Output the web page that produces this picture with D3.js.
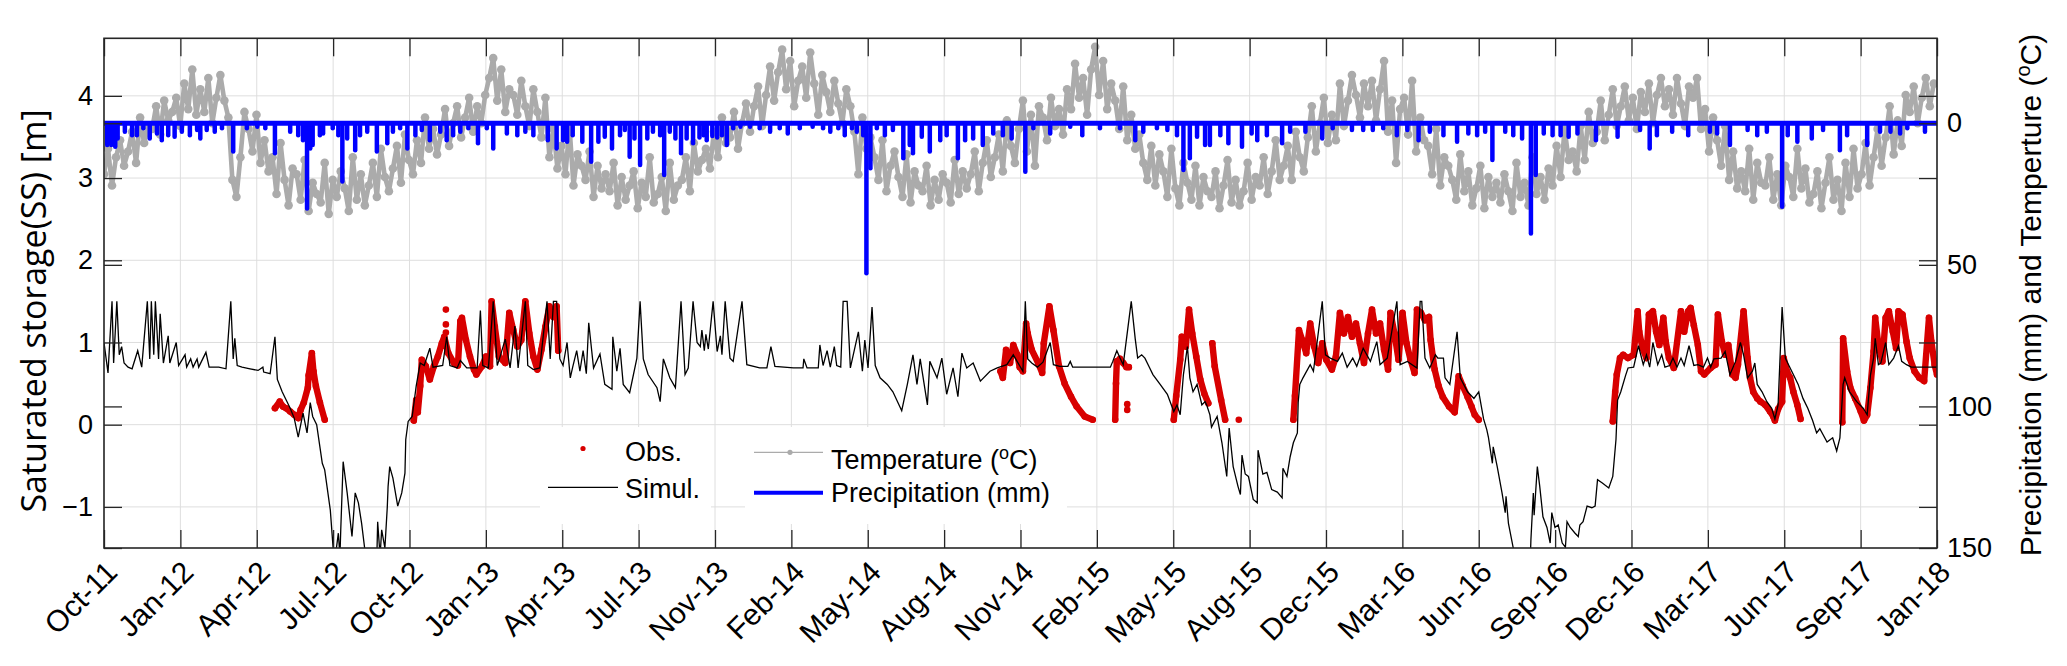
<!DOCTYPE html>
<html>
<head>
<meta charset="utf-8">
<script src="https://cdn.jsdelivr.net/npm/d3@7"></script>
<style>
  body { margin: 0; background: #fff; }
  text { font-family: "Liberation Sans", Arial, Helvetica, sans-serif; fill: #000; }
</style>
</head>
<body>
<svg id="chart" width="2067" height="666"></svg>
<script>
// time axis runs from 1 Oct 2011 to 1 Jan 2018, ticks are evenly spaced in time
const startDate = new Date(2011, 9, 1);
const endDate = new Date(2018, 0, 1);
const xTickLabels = ["Oct-11", "Jan-12", "Apr-12", "Jul-12", "Oct-12", "Jan-13", "Apr-13",
  "Jul-13", "Nov-13", "Feb-14", "May-14", "Aug-14", "Nov-14", "Feb-15", "May-15", "Aug-15",
  "Dec-15", "Mar-16", "Jun-16", "Sep-16", "Dec-16", "Mar-17", "Jun-17", "Sep-17", "Jan-18"];
const leftTicks = [-1, 0, 1, 2, 3, 4];
const rightTicks = [0, 50, 100, 150];

// simulated saturated storage [m]: [days since 1 Oct 2011, value]
const simulated = [[0,1.0],[5,0.63],[10,1.5],[12,0.75],[16,1.5],[19,0.85],[22,0.95],[25,0.75],[30,0.7],[35,0.68],[42,0.9],[47,0.7],[54,1.5],[57,0.8],[59,1.5],[62,0.85],[64,1.5],[68,0.8],[70,1.35],[74,0.75],[80,1.08],[82,0.75],[90,1.0],[93,0.72],[101,0.85],[103,0.7],[108,0.8],[111,0.7],[116,0.8],[118,0.7],[127,0.88],[131,0.7],[143,0.7],[152,0.68],[158,1.5],[161,0.8],[163,1.05],[166,0.72],[172,0.7],[182,0.68],[192,0.66],[198,0.7],[199,0.64],[207,0.62],[213,1.07],[216,0.55],[222,0.4],[227,0.3],[232,0.2],[237,0.08],
  [242,-0.15],[248,0.14],[253,-0.1],[257,0.27],[260,0.1],[265,0.0],[272,-0.47],[275,-0.55],[282,-1.04],[287,-1.7],[292,-1.32],[294,-1.6],[295,-1.28],[298,-0.45],[303,-0.83],[309,-1.36],[313,-0.83],[317,-0.95],[321,-1.2],[326,-1.6],[334,-1.8],[340,-1.6],[341,-1.18],[344,-1.6],[346,-1.28],[350,-1.5],[353,-1.0],[354,-0.75],[356,-0.51],[360,-0.65],[366,-0.99],[371,-0.83],[375,-0.59],[376,-0.18],[379,0.04],[384,0.1],[389,0.47],[394,0.75],[399,0.72],[406,0.93],[410,0.7],[422,0.72],[427,1.07],[431,0.72],[440,0.69],[444,0.78],[452,0.69],[465,0.69],[469,1.39],[472,0.72],[479,0.69],[485,1.5],[490,0.72],[493,0.81],[500,1.04],[506,0.69],[512,1.2],[516,0.69],[525,1.5],[528,0.72],[535,0.67],[543,0.69],[552,1.5],[556,0.8],[560,1.5],[564,1.5],[568,0.8],[572,0.72],
  [577,1.0],[581,0.57],[584,0.7],[589,0.9],[593,0.65],[597,0.9],[601,0.62],[604,1.24],[610,0.69],[618,0.86],[624,0.49],[633,0.43],[634,1.07],[639,0.65],[643,0.93],[647,0.49],[655,0.39],[664,0.81],[668,1.5],[672,0.8],[678,0.61],[689,0.45],[693,0.28],[697,0.8],[705,0.57],[712,0.45],[719,1.5],[724,0.61],[728,0.69],[734,1.5],[739,1.0],[743,0.95],[745,1.15],[748,0.9],[750,1.1],[753,0.92],[759,1.5],[764,0.89],[768,1.08],[770,0.85],[774,1.5],[780,0.81],[784,0.77],[795,1.5],[801,0.73],[817,0.69],[826,0.69],[831,0.95],[836,0.71],[859,0.69],[871,0.69],[872,0.8],[876,0.69],[890,0.69],[892,0.97],[896,0.72],[901,0.9],[905,0.7],[910,0.95],[913,0.72],[918,0.7],[921,1.5],[926,1.5],[930,0.69],[940,1.13],[945,0.65],[948,1.03],[952,0.69],[957,1.43],[961,0.72],[967,0.57],[976,0.49],[983,0.40],[994,0.17],[1001,0.49],[1008,0.85],[1013,0.49],[1017,0.8],[1026,0.24],[1029,0.77],[1038,0.57],[1044,0.81],[1050,0.37],[1058,0.69],[1064,0.34],[1069,0.87],[1075,0.69],[1083,0.75],[1092,0.53],[1104,0.65],[1113,0.69],[1125,0.73],[1133,0.85],[1145,0.65],[1148,1.5],[1151,0.8],[1156,0.75],[1163,0.7],[1170,0.76],[1179,1.0],[1183,0.73],[1191,0.71],[1201,0.71],[1204,0.77],[1207,0.70],[1254,0.70],[1257,0.77],[1262,0.9],[1266,0.81],[1270,0.73],[1280,1.5],[1285,1.04],[1288,0.81],[1293,0.85],[1297,0.81],[1303,0.69],[1307,0.61],[1316,0.49],[1325,0.37],[1333,0.16],[1337,0.24],[1341,0.12],[1345,0.61],[1350,0.95],[1353,0.57],[1357,0.40],[1362,0.49],[1368,0.24],[1372,0.28],[1374,0.24],[1378,0.12],[1380,-0.03],[1387,0.1],[1393,-0.22],[1399,-0.63],[1402,-0.04],[1407,-0.51],[1413,-0.75],[1416,-0.85],[1418,-0.37],[1422,-0.6],[1426,-0.63],[1432,-0.91],[1437,-0.95],[1438,-0.31],[1444,-0.6],[1449,-0.58],[1455,-0.79],[1462,-0.82],[1468,-0.89],[1469,-0.53],[1474,-0.63],[1478,-0.39],[1482,-0.22],[1487,-0.10],[1488,0.27],[1490,0.49],[1494,0.57],[1503,0.73],[1507,0.65],[1518,1.5],[1522,0.85],[1528,0.81],[1537,0.77],[1543,0.87],[1549,0.70],[1556,0.81],[1561,0.71],[1569,0.93],[1578,0.77],[1586,1.01],[1590,0.73],[1599,0.81],[1611,1.5],[1615,0.73],[1624,0.77],[1636,0.69],[1640,1.5],[1642,1.5],[1646,0.81],[1652,0.69],[1659,0.85],[1662,0.81],[1669,0.81],[1671,0.57],[1677,0.49],[1686,1.13],[1690,0.57],[1699,0.40],[1707,0.32],[1713,0.4],[1719,0.07],[1723,-0.06],[1725,-0.15],[1730,-0.47],[1731,-0.27],[1736,-0.51],[1742,-0.83],[1746,-1.07],[1747,-0.87],[1750,-1.2],[1756,-1.5],[1765,-1.8],[1777,-1.7],[1778,-1.4],[1781,-0.83],[1782,-1.1],[1786,-0.51],[1789,-0.75],[1793,-1.12],[1798,-1.25],[1802,-1.44],[1804,-1.07],[1808,-1.25],[1812,-1.22],[1817,-1.44],[1821,-1.49],[1823,-1.18],[1827,-1.25],[1833,-1.32],[1837,-1.36],[1839,-1.22],[1843,-1.18],[1848,-0.99],[1854,-1.01],[1858,-0.99],[1861,-0.67],[1867,-0.71],[1875,-0.77],[1880,-0.63],[1884,-0.18],[1886,0.3],[1890,0.4],[1896,0.6],[1899,0.69],[1906,0.70],[1912,0.96],[1918,0.73],[1922,0.85],[1926,0.70],[1930,1.0],[1936,0.73],[1941,0.85],[1945,0.70],[1951,0.72],[1955,0.81],[1960,0.70],[1965,0.81],[1969,0.72],[1975,0.96],[1981,0.72],[1986,0.73],[1993,0.70],[1998,0.81],[2002,0.70],[2006,0.80],[2015,0.81],[2020,0.89],[2026,0.61],[2033,0.77],[2039,1.0],[2043,0.85],[2048,0.57],[2054,0.65],[2057,0.75],[2060,0.49],[2066,0.40],[2072,0.28],[2078,0.20],[2082,0.07],[2086,0.24],[2091,1.43],[2095,0.81],[2099,0.73],[2105,0.61],[2111,0.49],[2117,0.32],[2123,0.2],[2129,0.05],[2134,-0.1],[2138,-0.05],[2147,-0.21],[2154,-0.16],[2159,-0.32],[2163,-0.16],[2167,0.49],[2169,0.57],[2175,0.40],[2184,0.28],[2192,0.20],[2197,0.12],[2201,0.6],[2205,0.81],[2207,1.05],[2211,0.73],[2214,0.75],[2220,1.0],[2224,0.73],[2230,0.81],[2236,0.96],[2240,0.77],[2246,0.73],[2252,0.70],[2284,0.70]];

// observed saturated storage [m], one array per measuring period
const obs2012a = [[213,0.2],[219,0.28],[223,0.22],[227,0.2],[232,0.16],[237,0.12],[242,0.08],[245,0.18],[249,0.27],[254,0.45],[255,0.6],[259,0.87],[261,0.65],[264,0.47],[269,0.27],[275,0.06]];
const obs2012b = [[386,0.05],[389,0.3],[391,0.15],[394,0.47],[396,0.79],[401,0.71],[406,0.55],[411,0.71],[416,0.83],[421,0.99],[424,1.07],[429,0.87],[436,0.75],[441,0.72],[444,1.26],[446,1.3],[451,1.03],[456,0.83],[461,0.67],[464,0.61],[471,0.71],[476,0.83],[481,0.71],[483,1.5],[487,1.19],[492,0.83],[500,0.75],[505,1.36],[510,1.15],[515,0.95],[520,1.03],[525,1.5],[530,1.11],[535,0.83],[540,0.67],[545,0.91],[550,1.19],[555,1.44],[560,1.31],[564,1.44],[566,0.9]];
const obs2014 = [[1117,0.65],[1120,0.57],[1124,0.91],[1129,0.75],[1133,0.97],[1138,0.85],[1141,0.7],[1145,0.65],[1149,1.23],[1151,1.11],[1156,0.91],[1164,0.75],[1169,0.63],[1171,0.99],[1178,1.44],[1183,1.15],[1190,0.71],[1197,0.5],[1205,0.34],[1212,0.22],[1222,0.1],[1232,0.06]];
const obs2015a = [[1260,0.06],[1261,0.5],[1262,0.77],[1266,0.8],[1270,0.75],[1274,0.7],[1277,0.7]];
const obs2015b = [[1333,0.06],[1336,0.35],[1341,0.79],[1343,1.07],[1348,0.95],[1352,1.4],[1356,1.11],[1361,0.83],[1366,0.55],[1371,0.38],[1376,0.26]];
const obs2015c = [[1381,0.99],[1384,0.71],[1392,0.3],[1397,0.06]];
const obs2015d = [[1482,0.06],[1484,0.35],[1489,1.15],[1493,1.03],[1498,0.87],[1503,1.23],[1508,0.95],[1513,0.75],[1518,0.99],[1523,0.79],[1530,0.67],[1535,0.83],[1540,1.36],[1545,1.11],[1550,1.31],[1555,1.07],[1560,1.23],[1565,0.99],[1570,0.75],[1575,1.11],[1580,1.4],[1585,1.11],[1590,1.23],[1595,0.91],[1600,0.67],[1603,1.36],[1608,1.11],[1613,0.79],[1618,1.36],[1623,0.99],[1628,0.79],[1633,0.63],[1636,1.4],[1641,1.36],[1646,1.27],[1651,1.31],[1653,1.03],[1658,0.67],[1663,0.47],[1668,0.34],[1676,0.22],[1683,0.15],[1688,0.59],[1693,0.47],[1699,0.34],[1704,0.22],[1708,0.12],[1713,0.06]];
const obs2016 = [[1880,0.04],[1883,0.40],[1885,0.61],[1889,0.81],[1893,0.85],[1899,0.81],[1906,0.85],[1911,1.38],[1913,1.13],[1917,0.93],[1922,0.81],[1925,1.34],[1930,1.38],[1934,1.13],[1938,0.97],[1943,1.3],[1946,1.01],[1950,0.81],[1956,0.69],[1965,1.38],[1969,1.13],[1974,1.38],[1977,1.42],[1981,1.21],[1986,0.97],[1990,0.65],[1994,0.61],[2002,0.69],[2008,0.73],[2011,1.34],[2016,1.01],[2020,0.85],[2024,0.97],[2029,0.61],[2033,0.57],[2036,0.73],[2043,1.38],[2048,0.81],[2051,0.57],[2055,0.40],[2060,0.32],[2064,0.28],[2070,0.24],[2076,0.16],[2080,0.10],[2082,0.05],[2086,0.19],[2091,0.28],[2093,0.81],[2097,0.65],[2101,0.57],[2105,0.40],[2110,0.24],[2114,0.07]];
const obs2017 = [[2166,0.03],[2167,1.05],[2172,0.65],[2176,0.45],[2182,0.32],[2189,0.16],[2193,0.05],[2197,0.12],[2201,0.45],[2205,0.89],[2207,1.3],[2211,0.97],[2216,0.77],[2220,1.3],[2224,1.38],[2229,1.13],[2233,0.93],[2236,1.38],[2241,1.34],[2246,1.01],[2250,0.81],[2256,0.65],[2262,0.57],[2268,0.53],[2274,1.3],[2277,1.01],[2281,0.73],[2284,0.61]];
const obsSingle = [[426,1.4],[426,1.22],[426,1.12],[1275,0.25],[1275,0.18],[1414,0.06]];

// temperature [degC], one reading every 5 days from 1 Oct 2011
const tempStepDays = 5;
const temperature = [18,9,22,12,6,15, 10,3,14,-2,7,1, 2,-6,4,-8,-1,-4, -9,1,-14,-5,-19,-3,
  -12,-4,-16,0,-9,-17, -8,-2,20,26,12,-4, 2,10,-3,14,6,17, 12,25,7,20,29,16,
  18,27,13,31,21,25, 28,14,32,20,26,17, 23,31,12,27,18,29, 22,14,26,9,19,24,
  16,8,21,4,13,18, 6,14,-2,9,2,11, 4,-5,8,0,-6,5, -2,-9,3,-6,0,-10,
  -16,-23,-8,-19,-4,-12, -10,-3,-15,-6,1,-12, -4,5,-9,12,2,16, 8,18,1,22,11,15,
  20,10,26,15,23,18, 24,14,29,19,27,22, 17,30,21,26,12,28, 25,19,31,14,27,22,
  20,12,24,7,17,13, 9,16,3,12,-2,7, 5,-4,9,0,-7,3, -6,-13,1,-10,-20,-8,
  -18,-26,-12,-22,-6,-15, -20,-9,-25,-14,-3,-17, -11,-4,-15,-7,0,-12, -6,3,18,-2,9,5,
  12,20,6,24,15,10, 19,26,11,28,17,22, 24,15,29,20,27,18, 21,28,13,25,17,23,
  18,10,24,14,6,19, 12,4,17,-1,8,14, 2,-8,10,-3,15,-6, -2,6,-9,1,-5,4,
  -12,-5,-21,-9,-16,-3, -19,-27,-10,-22,-5,-14, -8,2,-13,6,-3,9, 4,14,20,8,22,11,
  17,26,9,23,29,14, 21,27,15,29,19,24, 26,17,30,22,13,28, 20,29,24,14,27,19,
  22,12,25,17,6,20, 15,8,20,3,12,17, 5,-6,10,0,-9,7, -3,6,-14,1,-8,-17,
  -10,-2,-14,-6,-15,-1, -12,-22,3,-8,14,-5, -9,4,-15,10,-2,6, 8,18,2,22,12,15,
  20,27,11,24,17,29, 23,15,30,19,26,21, 28,18,24,31,14,26, 21,29,12,25,19,27,
  16,22,8,19,2,13, 10,17,1,13,-4,7, 3,-8,6,-3,-12,1, -6,-13,-1,-9,2,-11,
  -4,-14,0,-10,-16,-6, -12,-3,-16,-7,1,-13, -9,-16,2,-5,10,-2, 6,15,1,20,10,23,
  17,24,9,27,14,21, 22,12,27,18,29,15, 19,26,9,23,16,28, 25,17,30,21,12,27,
  20,31,14,26,9,23, 18,7,22,12,2,15, 5,-6,11,-1,8,-10, -4,-13,0,-9,-16,-6, -14];

// daily precipitation [mm]: [days since 1 Oct 2011, value]
const precipitation = [[4,7.7],[9,7.7],[14,8.3],[17,5.4],[26,3.0],[35,4.2],[41,4.2],[49,1.8],[57,5.4],[66,3.6],[72,6.0],[80,4.2],[88,4.8],[97,3.0],[107,4.2],[116,2.4],[120,5.4],[128,2.4],[138,3.0],[147,1.8],[161,10.0],[178,1.8],[191,1.2],[201,1.8],[213,10.6],[232,3.0],[242,4.2],[248,6.0],[253,30.1],[257,8.9],[260,7.7],[269,4.2],[273,3.6],[285,1.8],[292,4.2],[297,20.6],[303,5.4],[313,9.5],[319,4.2],[328,3.0],[340,10.0],[353,7.1],[360,3.0],[369,1.8],[378,8.9],[388,4.2],[396,2.4],[406,6.0],[419,3.0],[427,6.0],[435,4.2],[444,3.0],[454,1.8],[466,7.1],[477,1.8],[485,8.9],[502,3.6],[515,4.2],[525,3.0],[535,4.2],[553,6.0],[564,8.9],[572,6.0],[577,6.5],[584,4.2],[596,6.5],[607,13.6],[616,6.5],[624,4.8],[633,8.9],[643,4.2],[649,2.4],[655,11.8],[661,5.4],[668,14.7],[677,5.4],[684,3.0],[693,4.2],[698,18.3],[705,3.0],[712,5.4],[719,10.6],[726,5.4],[734,7.1],[742,5.0],[747,4.2],[751,6.0],[758,4.5],[764,5.0],[770,4.2],[776,7.7],[784,1.8],[793,1.2],[805,1.2],[817,1.8],[830,3.0],[842,1.8],[852,3.6],[867,1.8],[883,1.2],[896,1.8],[905,3.0],[915,1.8],[923,4.2],[932,1.8],[938,3.0],[946,4.2],[950,53],[955,15.9],[963,1.8],[973,4.2],[983,2.4],[996,12.4],[1004,7.7],[1008,10.6],[1019,4.8],[1029,10.0],[1042,6.0],[1050,4.2],[1064,12.4],[1073,6.0],[1083,5.4],[1095,7.7],[1108,3.6],[1120,4.2],[1131,5.4],[1148,17.1],[1158,1.8],[1179,3.6],[1204,1.2],[1219,4.2],[1241,1.8],[1266,1.8],[1285,6.0],[1295,3.0],[1312,1.8],[1325,2.4],[1337,4.2],[1345,16.5],[1353,12.4],[1362,4.8],[1372,7.7],[1378,7.7],[1391,4.2],[1401,7.1],[1418,8.3],[1430,3.6],[1437,6.0],[1449,4.2],[1468,7.1],[1478,3.0],[1497,3.0],[1518,5.4],[1531,1.8],[1555,2.4],[1569,2.4],[1581,2.4],[1594,1.8],[1611,4.2],[1624,2.4],[1638,6.0],[1652,3.0],[1669,4.2],[1686,6.5],[1700,3.6],[1711,4.2],[1721,3.0],[1730,13.0],[1746,3.0],[1756,4.2],[1767,5.4],[1778,38.9],[1784,18.3],[1794,3.6],[1805,4.2],[1815,4.2],[1825,4.8],[1836,3.6],[1859,6.0],[1886,4.8],[1914,2.4],[1926,8.9],[1935,4.2],[1954,3.0],[1974,4.2],[2001,3.0],[2010,3.6],[2026,7.7],[2048,2.4],[2060,4.2],[2072,3.0],[2091,29.5],[2098,4.2],[2110,6.5],[2128,5.4],[2142,2.4],[2163,9.5],[2172,4.2],[2197,7.7],[2213,3.0],[2226,3.0],[2238,3.6],[2247,1.8],[2269,3.0]];

const obsSegments = [obs2012a, obs2012b, obs2014, obs2015a, obs2015b, obs2015c, obs2015d, obs2016, obs2017];

const dayDate = d => new Date(startDate.getTime() + d * 864e5);

const svg = d3.select("#chart");
const plot = { left: 104, right: 1937, top: 38.3, bottom: 548 };
const tickLen = 18;
const axisColor = "#262626";
const tempColor = "#ababab";

const x = d3.scaleTime().domain([startDate, endDate]).range([plot.left, plot.right]);
const yL = d3.scaleLinear().domain([-1.5, 4.7]).range([plot.bottom, plot.top]);
const yR = d3.scaleLinear().domain([-30, 150]).range([plot.top, plot.bottom]);

const xTicks = xTickLabels.map((_, i) =>
  new Date(startDate.getTime() + i * (endDate - startDate) / (xTickLabels.length - 1)));

svg.append("defs").append("clipPath").attr("id", "clip")
  .append("rect")
  .attr("x", plot.left).attr("y", plot.top)
  .attr("width", plot.right - plot.left).attr("height", plot.bottom - plot.top);

// grid
const grid = svg.append("g").attr("stroke", "#dedede").attr("stroke-width", 1);
grid.selectAll(".gx").data(xTicks).join("line")
  .attr("x1", d => x(d)).attr("x2", d => x(d))
  .attr("y1", plot.top).attr("y2", plot.bottom);
grid.selectAll(".gy").data(leftTicks).join("line")
  .attr("x1", plot.left).attr("x2", plot.right)
  .attr("y1", d => yL(d)).attr("y2", d => yL(d));

const data = svg.append("g").attr("clip-path", "url(#clip)");

// temperature (right axis)
const tempPoints = temperature.map((t, i) => [dayDate(i * tempStepDays), t]);
data.append("path")
  .datum(tempPoints)
  .attr("fill", "none")
  .attr("stroke", tempColor)
  .attr("stroke-width", 4.6)
  .attr("stroke-linejoin", "round")
  .attr("d", d3.line().x(d => x(d[0])).y(d => yR(d[1])));
data.append("g").attr("fill", tempColor)
  .selectAll("circle").data(tempPoints).join("circle")
  .attr("cx", d => x(d[0])).attr("cy", d => yR(d[1])).attr("r", 4.3);

// precipitation (right axis)
data.append("line")
  .attr("x1", x(startDate)).attr("x2", x(endDate))
  .attr("y1", yR(0)).attr("y2", yR(0))
  .attr("stroke", "#0000ff").attr("stroke-width", 5);
data.append("g").attr("stroke", "#0000ff").attr("stroke-width", 4.5).attr("stroke-linecap", "round")
  .selectAll("line").data(precipitation).join("line")
  .attr("x1", d => x(dayDate(d[0]))).attr("x2", d => x(dayDate(d[0])))
  .attr("y1", yR(0)).attr("y2", d => yR(d[1]));

// observed
const obsLine = d3.line().x(d => x(dayDate(d[0]))).y(d => yL(d[1]));
data.append("g").attr("fill", "none").attr("stroke", "#d80000")
  .attr("stroke-width", 6.4).attr("stroke-linejoin", "round").attr("stroke-linecap", "round")
  .selectAll("path").data(obsSegments).join("path").attr("d", obsLine);
data.append("g").attr("fill", "#d80000")
  .selectAll("circle").data(obsSegments.flat().concat(obsSingle)).join("circle")
  .attr("cx", d => x(dayDate(d[0]))).attr("cy", d => yL(d[1])).attr("r", 3.3);

// simulated
data.append("path")
  .datum(simulated)
  .attr("fill", "none")
  .attr("stroke", "#000")
  .attr("stroke-width", 1.3)
  .attr("d", d3.line().x(d => x(dayDate(d[0]))).y(d => yL(d[1])));

// legends
const leg = svg.append("g");
leg.append("rect").attr("x", 540).attr("y", 427).attr("width", 171).attr("height", 97).attr("fill", "#fff");
leg.append("rect").attr("x", 745).attr("y", 427).attr("width", 322).attr("height", 97).attr("fill", "#fff");
leg.append("circle").attr("cx", 583).attr("cy", 448.5).attr("r", 2.6).attr("fill", "#d80000");
leg.append("line").attr("x1", 548).attr("x2", 618).attr("y1", 487.3).attr("y2", 487.3)
  .attr("stroke", "#000").attr("stroke-width", 1.3);
leg.append("line").attr("x1", 754).attr("x2", 823).attr("y1", 452.3).attr("y2", 452.3)
  .attr("stroke", tempColor).attr("stroke-width", 1.3);
leg.append("circle").attr("cx", 790).attr("cy", 452.3).attr("r", 2.6).attr("fill", tempColor);
leg.append("line").attr("x1", 754).attr("x2", 823).attr("y1", 492.7).attr("y2", 492.7)
  .attr("stroke", "#0000ff").attr("stroke-width", 4);
const legText = (tx, ty, parts) => {
  const t = leg.append("text").attr("x", tx).attr("y", ty).attr("font-size", 27);
  parts.forEach(p => {
    const s = t.append("tspan").text(p.s);
    if (p.sup) s.attr("baseline-shift", "super").attr("font-size", 18);
  });
};
legText(625, 460.5, [{ s: "Obs." }]);
legText(625, 498.3, [{ s: "Simul." }]);
legText(831, 469, [{ s: "Temperature (" }, { s: "o", sup: true }, { s: "C)" }]);
legText(831, 502, [{ s: "Precipitation (mm)" }]);

// axes
const styleAxis = g => {
  g.select(".domain").remove();
  g.selectAll(".tick line").attr("stroke", axisColor).attr("stroke-width", 1.3);
  g.selectAll(".tick text").attr("fill", "#000").attr("font-size", 27)
    .attr("font-family", '"Liberation Sans", Arial, Helvetica, sans-serif');
};
svg.append("g").attr("transform", `translate(0,${plot.bottom})`)
  .call(d3.axisBottom(x).tickValues(xTicks).tickSize(-tickLen).tickSizeOuter(0).tickFormat(""))
  .call(styleAxis);
svg.append("g").attr("transform", `translate(0,${plot.top})`)
  .call(d3.axisTop(x).tickValues(xTicks).tickSize(-tickLen).tickSizeOuter(0).tickFormat(""))
  .call(styleAxis);
svg.append("g").attr("transform", `translate(${plot.left},0)`)
  .call(d3.axisLeft(yL).tickValues(leftTicks).tickSize(-tickLen).tickSizeOuter(0)
    .tickPadding(11).tickFormat(d3.format("d")))
  .call(styleAxis);
svg.append("g").attr("transform", `translate(${plot.left},0)`)
  .call(d3.axisLeft(yR).tickValues(rightTicks).tickSize(-tickLen).tickSizeOuter(0).tickFormat(""))
  .call(styleAxis);
svg.append("g").attr("transform", `translate(${plot.right},0)`)
  .call(d3.axisRight(yR).tickValues(rightTicks).tickSize(-tickLen).tickSizeOuter(0)
    .tickPadding(10).tickFormat(d3.format("d")))
  .call(styleAxis);
svg.append("g").attr("transform", `translate(${plot.right},0)`)
  .call(d3.axisRight(yL).tickValues(leftTicks).tickSize(-tickLen).tickSizeOuter(0).tickFormat(""))
  .call(styleAxis);

svg.append("rect")
  .attr("x", plot.left).attr("y", plot.top)
  .attr("width", plot.right - plot.left).attr("height", plot.bottom - plot.top)
  .attr("fill", "none").attr("stroke", axisColor).attr("stroke-width", 1.6);

// rotated month labels
svg.append("g").selectAll("text").data(xTicks).join("text")
  .attr("transform", d => `translate(${x(d) + 15},574) rotate(-45)`)
  .attr("text-anchor", "end")
  .attr("font-size", 30)
  .text((d, i) => xTickLabels[i]);

// axis titles
svg.append("text")
  .attr("transform", "translate(46,311) rotate(-90)")
  .attr("text-anchor", "middle")
  .attr("font-size", 34)
  .style("font-family", '"Open Sans", "Noto Sans", sans-serif')
  .text("Saturated storage(SS) [m]");
const rt = svg.append("text")
  .attr("transform", "translate(2041,295) rotate(-90)")
  .attr("text-anchor", "middle")
  .attr("font-size", 30);
rt.append("tspan").text("Precipitation (mm) and Temperture (");
rt.append("tspan").text("o").attr("baseline-shift", "super").attr("font-size", 20);
rt.append("tspan").text("C)");
</script>
</body>
</html>
